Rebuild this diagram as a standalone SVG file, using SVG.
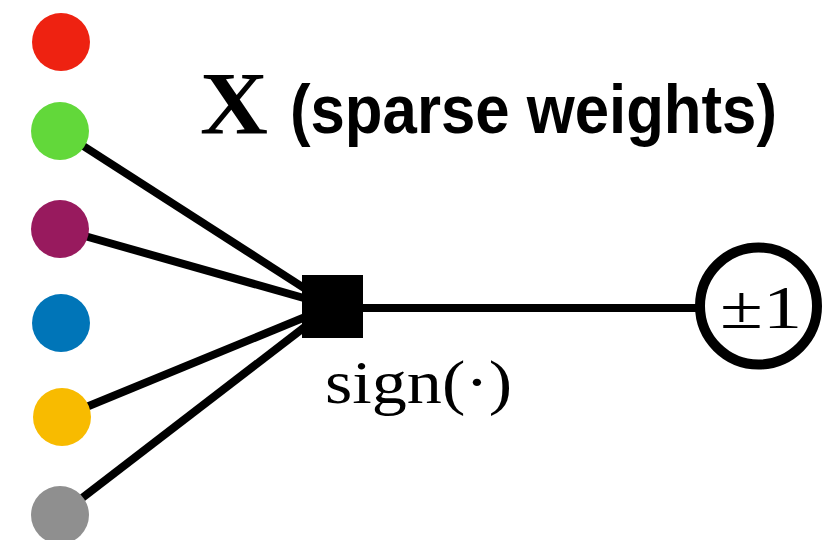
<svg xmlns="http://www.w3.org/2000/svg" width="834" height="540" viewBox="0 0 834 540">
<style>
.edge{stroke:#000;stroke-width:8;fill:none}
.serif{font-family:"Liberation Serif","DejaVu Serif",serif;fill:#000}
.sans{font-family:"Liberation Sans","Arial",sans-serif;font-weight:bold;fill:#000}
</style>
<rect width="834" height="540" fill="#fff"/>
<g id="connectors">
<line class="edge" x1="60" y1="131" x2="332" y2="306"/>
<line class="edge" x1="60" y1="229" x2="332" y2="306"/>
<line class="edge" x1="62" y1="417" x2="332" y2="306"/>
<line class="edge" x1="60" y1="515" x2="332" y2="306"/>
<line class="edge" x1="332" y1="308" x2="700" y2="308"/>
</g>
<g id="n-red"><circle cx="61" cy="42" r="29" fill="#EE2211"/></g>
<g id="n-green"><circle cx="60" cy="131" r="29" fill="#62D83A"/></g>
<g id="n-purple"><circle cx="60" cy="229" r="29" fill="#981A5E"/></g>
<g id="n-blue"><circle cx="61" cy="323" r="29" fill="#0075B8"/></g>
<g id="n-yellow"><circle cx="62" cy="417" r="29" fill="#F8BB00"/></g>
<g id="n-gray"><circle cx="60" cy="515" r="29" fill="#8F8F8F"/></g>
<g id="n-sign">
<rect x="302" y="275" width="61" height="63" fill="#000"/>
<text class="serif" x="325" y="403" font-size="62" textLength="187" lengthAdjust="spacingAndGlyphs">sign(·)</text>
</g>
<g id="n-out">
<circle cx="758.5" cy="306" r="58.5" fill="#fff" stroke="#000" stroke-width="10"/>
<text class="serif" x="720" y="328" font-size="62" textLength="82" lengthAdjust="spacingAndGlyphs">±1</text>
</g>
<g id="title">
<text class="serif" x="200" y="133" font-size="88" font-weight="bold" textLength="68" lengthAdjust="spacingAndGlyphs">X</text>
<text class="sans" x="290" y="133" font-size="68" textLength="487" lengthAdjust="spacingAndGlyphs">(sparse weights)</text>
</g>
</svg>
